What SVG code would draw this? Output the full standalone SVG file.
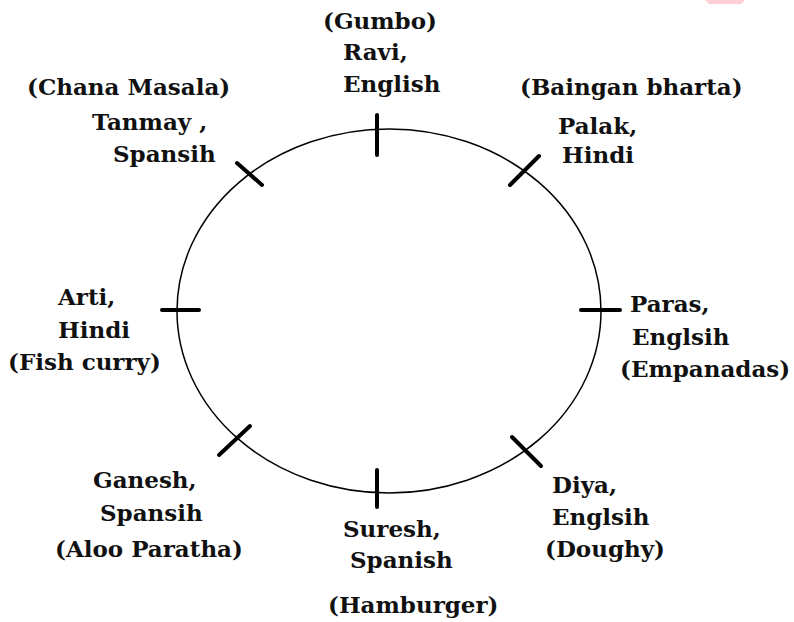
<svg xmlns="http://www.w3.org/2000/svg" width="794" height="622" viewBox="0 0 794 622">
<style>
text{font-family:"DejaVu Serif","Liberation Serif",serif;font-weight:bold;font-size:23px;fill:#111}
.tick{stroke:#000;stroke-width:4;stroke-linecap:round}
</style>
<rect width="794" height="622" fill="#fff"/>
<path d="M705,0 L745,0 L741,4 L709,4 Z" fill="#ffd0d8"/>
<g id="connectors">
<ellipse cx="389" cy="311" rx="212" ry="182" fill="none" stroke="#000" stroke-width="1.5"/>
</g>
<g id="n-ravi"><line class="tick" x1="377" y1="115" x2="377" y2="155"/><text x="323" y="29">(Gumbo)</text><text x="343" y="60">Ravi,</text><text x="343" y="92">English</text></g>
<g id="n-palak"><line class="tick" x1="510" y1="185" x2="539" y2="156"/><text x="520" y="95">(Baingan bharta)</text><text x="558" y="134">Palak,</text><text x="562" y="163">Hindi</text></g>
<g id="n-paras"><line class="tick" x1="581" y1="310" x2="620" y2="310"/><text x="630" y="312">Paras,</text><text x="632" y="345">Englsih</text><text x="620" y="377">(Empanadas)</text></g>
<g id="n-diya"><line class="tick" x1="512" y1="437" x2="541" y2="466"/><text x="552" y="493">Diya,</text><text x="552" y="525">Englsih</text><text x="545" y="557">(Doughy)</text></g>
<g id="n-suresh"><line class="tick" x1="377" y1="470" x2="377" y2="507"/><text x="343" y="537">Suresh,</text><text x="350" y="568">Spanish</text><text x="328" y="613">(Hamburger)</text></g>
<g id="n-ganesh"><line class="tick" x1="219" y1="455" x2="250" y2="426"/><text x="93" y="488">Ganesh,</text><text x="100" y="521">Spansih</text><text x="55" y="557">(Aloo Paratha)</text></g>
<g id="n-arti"><line class="tick" x1="162" y1="310" x2="199" y2="310"/><text x="58" y="305">Arti,</text><text x="58" y="338">Hindi</text><text x="8" y="370">(Fish curry)</text></g>
<g id="n-tanmay"><line class="tick" x1="237" y1="163" x2="262" y2="185"/><text x="27" y="95">(Chana Masala)</text><text x="92" y="130">Tanmay ,</text><text x="113" y="162">Spansih</text></g>
</svg>
